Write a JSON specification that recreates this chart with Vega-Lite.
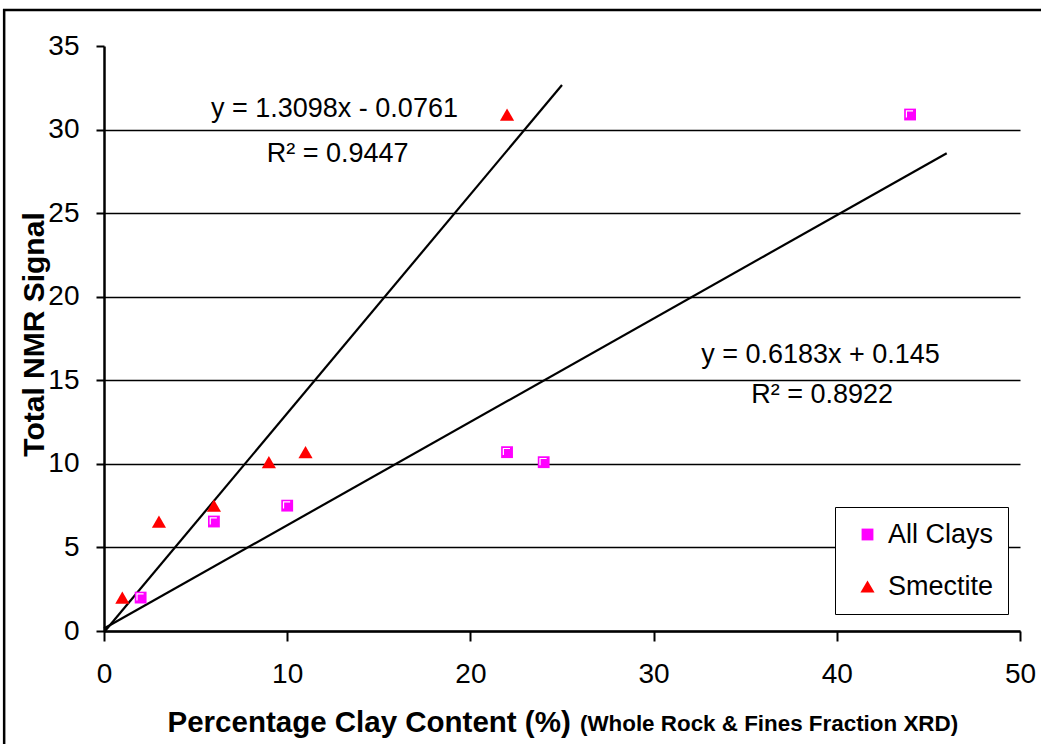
{
  "$schema": "https://vega.github.io/schema/vega-lite/v6.json",
  "width": 916,
  "height": 585,
  "autosize": {"type": "none"},
  "padding": {"left": 104, "top": 46, "right": 21, "bottom": 113},
  "background": "white",
  "config": {
    "view": {"stroke": null},
    "font": "Liberation Sans",
    "text": {"font": "Liberation Sans"}
  },
  "datasets": {
    "points": [
      {"series": "All Clays", "clay": 2, "nmr": 2.0},
      {"series": "All Clays", "clay": 6, "nmr": 6.55},
      {"series": "All Clays", "clay": 10, "nmr": 7.5},
      {"series": "All Clays", "clay": 22, "nmr": 10.7},
      {"series": "All Clays", "clay": 24, "nmr": 10.1},
      {"series": "All Clays", "clay": 44, "nmr": 30.9},
      {"series": "Smectite", "clay": 1, "nmr": 2.0},
      {"series": "Smectite", "clay": 3, "nmr": 6.55},
      {"series": "Smectite", "clay": 6, "nmr": 7.5},
      {"series": "Smectite", "clay": 9, "nmr": 10.1},
      {"series": "Smectite", "clay": 11, "nmr": 10.7},
      {"series": "Smectite", "clay": 22, "nmr": 30.9}
    ],
    "trend": [
      {"fit": "Smectite", "clay": 0, "nmr": -0.0761},
      {"fit": "Smectite", "clay": 25, "nmr": 32.669},
      {"fit": "All Clays", "clay": 0, "nmr": 0.145},
      {"fit": "All Clays", "clay": 46, "nmr": 28.587}
    ],
    "labels": [
      {"text": "y = 1.3098x - 0.0761", "clay": 12.58, "nmr": 30.75},
      {"text": "R² = 0.9447", "clay": 12.75, "nmr": 28.06},
      {"text": "y = 0.6183x + 0.145", "clay": 39.11, "nmr": 16.03},
      {"text": "R² = 0.8922", "clay": 39.2, "nmr": 13.64}
    ]
  },
  "layer": [
    {
      "data": {"values": [{"name": "frame"}]},
      "mark": {"type": "rect", "fill": null, "stroke": "black", "strokeWidth": 2.5, "clip": false},
      "encoding": {
        "x": {"datum": -5.45, "type": "quantitative"},
        "x2": {"datum": 60},
        "y": {"datum": 37.15, "type": "quantitative"},
        "y2": {"datum": -12}
      }
    },
    {
      "data": {"name": "trend"},
      "mark": {"type": "line", "color": "black", "strokeWidth": 2.2},
      "encoding": {
        "x": {"field": "clay", "type": "quantitative"},
        "y": {"field": "nmr", "type": "quantitative"},
        "detail": {"field": "fit"}
      }
    },
    {
      "data": {"name": "points"},
      "mark": {"type": "point", "filled": true, "opacity": 1},
      "encoding": {
        "x": {
          "field": "clay",
          "type": "quantitative",
          "scale": {"domain": [0, 50], "nice": false, "zero": true},
          "axis": {
            "values": [0, 10, 20, 30, 40, 50],
            "grid": false,
            "labelFlush": false,
            "domainColor": "black",
            "domainWidth": 2.5,
            "tickColor": "black",
            "tickWidth": 2,
            "tickSize": 10,
            "labelFontSize": 28,
            "labelColor": "black",
            "labelPadding": 19,
            "labelFont": "Liberation Sans",
            "title": "Percentage Clay Content (%)",
            "titleFont": "Liberation Sans",
            "titleFontSize": 29.5,
            "titleFontWeight": "bold",
            "titleColor": "black",
            "titleAlign": "left",
            "titleAnchor": "start",
            "titleX": 63,
            "titleY": 100,
            "titleBaseline": "alphabetic"
          }
        },
        "y": {
          "field": "nmr",
          "type": "quantitative",
          "scale": {"domain": [0, 35], "nice": false},
          "axis": {
            "values": [0, 5, 10, 15, 20, 25, 30, 35],
            "grid": true,
            "labelFlush": false,
            "gridColor": {"condition": {"test": "datum.value >= 35", "value": "transparent"}, "value": "black"},
            "gridWidth": 1.5,
            "domainColor": "black",
            "domainWidth": 2.5,
            "tickColor": "black",
            "tickWidth": 2,
            "tickSize": 8,
            "labelFontSize": 28,
            "labelColor": "black",
            "labelPadding": 17,
            "labelFont": "Liberation Sans",
            "title": "Total NMR Signal",
            "titleFont": "Liberation Sans",
            "titleFontSize": 30,
            "titleFontWeight": "bold",
            "titleColor": "black",
            "titleAngle": 270,
            "titleAlign": "center",
            "titleBaseline": "alphabetic",
            "titleX": -61,
            "titleY": 288
          }
        },
        "color": {
          "field": "series",
          "type": "nominal",
          "scale": {"domain": ["All Clays", "Smectite"], "range": ["#FF00FF", "#FF0000"]},
          "legend": {
            "orient": "none",
            "legendX": 731,
            "legendY": 461,
            "title": null,
            "strokeColor": "black",
            "fillColor": "white",
            "padding": 14,
            "symbolOffset": 5,
            "labelOffset": 7,
            "labelFontSize": 27,
            "labelFont": "Liberation Sans",
            "labelColor": "black",
            "symbolSize": 110,
            "rowPadding": 24,
            "encode": {"legend": {"update": {"strokeWidth": {"value": 2}}}}
          }
        },
        "shape": {
          "field": "series",
          "type": "nominal",
          "scale": {"domain": ["All Clays", "Smectite"], "range": ["square", "triangle-up"]}
        },
        "size": {
          "field": "series",
          "type": "nominal",
          "scale": {"domain": ["All Clays", "Smectite"], "range": [140, 200]},
          "legend": null
        }
      }
    },
    {
      "data": {"name": "points"},
      "transform": [{"filter": "datum.series === 'All Clays'"}],
      "mark": {"type": "point", "shape": "M -0.62 0.5 L -0.62 -0.62 L 0.5 -0.62", "filled": false, "stroke": "white", "strokeWidth": 1.2, "size": 140, "opacity": 1},
      "encoding": {
        "x": {"field": "clay", "type": "quantitative"},
        "y": {"field": "nmr", "type": "quantitative"}
      }
    },
    {
      "data": {"name": "labels"},
      "mark": {"type": "text", "fontSize": 27, "font": "Liberation Sans", "color": "black", "align": "center", "baseline": "alphabetic"},
      "encoding": {
        "x": {"field": "clay", "type": "quantitative"},
        "y": {"field": "nmr", "type": "quantitative"},
        "text": {"field": "text"}
      }
    },
    {
      "data": {"values": [{"text": "(Whole Rock & Fines Fraction XRD)"}]},
      "mark": {"type": "text", "fontSize": 22.4, "fontWeight": "bold", "font": "Liberation Sans", "color": "black", "align": "left", "baseline": "alphabetic", "clip": false},
      "encoding": {
        "x": {"datum": 25.98, "type": "quantitative"},
        "y": {"datum": -5.98, "type": "quantitative"},
        "text": {"field": "text"}
      }
    }
  ]
}
